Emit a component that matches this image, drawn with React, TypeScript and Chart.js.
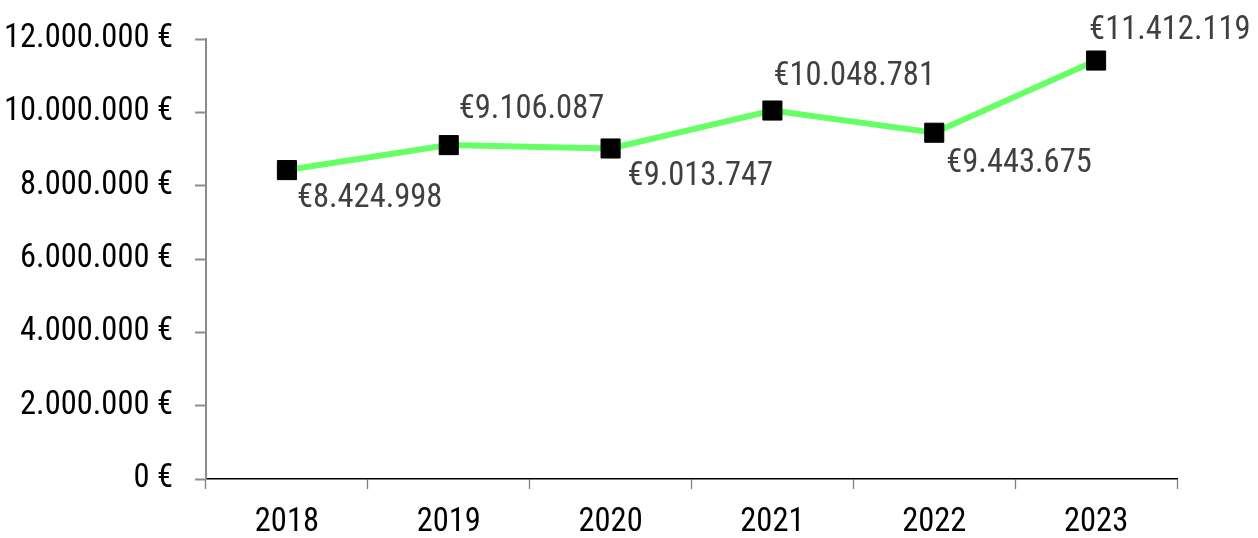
import React, { useEffect, useRef } from "react";
import { Chart, registerables } from "chart.js";

Chart.register(...registerables);

const years: string[] = ["2018", "2019", "2020", "2021", "2022", "2023"];
const revenue: number[] = [8424998, 9106087, 9013747, 10048781, 9443675, 11412119];

const FAMILY = "Roboto, 'Open Sans', sans-serif";
const STRETCH = "condensed";
const SIZE = 32.5;

const fmtTick = (v: number) =>
  Math.round(v).toString().replace(/\B(?=(\d{3})+(?!\d))/g, ".") + " €";
const fmtLabel = (v: number) =>
  "€" + Math.round(v).toString().replace(/\B(?=(\d{3})+(?!\d))/g, ".");

// pixel nudges for the data labels (styling only)
const labelDx = [10, 10, 17, 1, 12, -7];
const labelDy = [37, -27, 37, -26, 39, -22];

const dataLabelPlugin = {
  id: "valueLabels",
  afterDatasetsDraw(chart: any) {
    const ctx = chart.ctx;
    const meta = chart.getDatasetMeta(0);
    ctx.save();
    ctx.font = `${STRETCH} ${SIZE}px ${FAMILY}`;
    ctx.fillStyle = "#404040";
    ctx.textAlign = "left";
    ctx.textBaseline = "alphabetic";
    meta.data.forEach((pt: any, i: number) => {
      ctx.fillText(fmtLabel(revenue[i]), pt.x + labelDx[i], pt.y + labelDy[i]);
    });
    ctx.restore();
  },
};

export default function App() {
  const ref = useRef<HTMLCanvasElement | null>(null);
  useEffect(() => {
    document.body.style.margin = "0";
    const canvas = ref.current!;
    const tickFont = { family: FAMILY, size: SIZE, weight: STRETCH as any };
    const chart = new Chart(canvas, {
      type: "line",
      data: {
        labels: years,
        datasets: [
          {
            data: revenue,
            borderColor: "#66FF66",
            borderWidth: 6,
            pointStyle: "rect",
            pointRadius: 13.5,
            pointHoverRadius: 13.5,
            pointBackgroundColor: "#000000",
            pointBorderColor: "#000000",
            pointBorderWidth: 1,
            tension: 0,
            fill: false,
          },
        ],
      },
      options: {
        animation: false,
        responsive: false,
        maintainAspectRatio: false,
        layout: { padding: { top: 39, right: 81, bottom: 0, left: 0 } },
        plugins: { legend: { display: false }, tooltip: { enabled: false } },
        scales: {
          x: {
            offset: true,
            grid: {
              offset: true,
              drawOnChartArea: false,
              drawTicks: true,
              tickLength: 10,
              tickColor: "#7f7f7f",
              tickWidth: 1.3,
            },
            border: { display: true, color: "#000000", width: 1.5 },
            ticks: {
              color: "#000000",
              font: tickFont,
              padding: 14,
              maxRotation: 0,
            },
            afterFit: (s: any) => {
              s.height = 59;
            },
          },
          y: {
            min: 0,
            max: 12000000,
            grid: {
              drawOnChartArea: false,
              drawTicks: true,
              tickLength: 11,
              tickColor: "#8c8c8c",
              tickWidth: 2,
            },
            border: { display: true, color: "#8c8c8c", width: 2 },
            ticks: {
              stepSize: 2000000,
              color: "#000000",
              font: tickFont,
              padding: 22,
              callback: (v: any) => fmtTick(Number(v)),
            },
            afterFit: (s: any) => {
              s.width = 206;
              s.paddingTop = 0;
              s.paddingBottom = 0;
            },
          },
        },
      },
      plugins: [dataLabelPlugin],
    });
    return () => chart.destroy();
  }, []);
  return (
    <div style={{ width: 1258, height: 538, background: "#ffffff" }}>
      <canvas ref={ref} width={1258} height={538} style={{ display: "block" }} />
    </div>
  );
}
